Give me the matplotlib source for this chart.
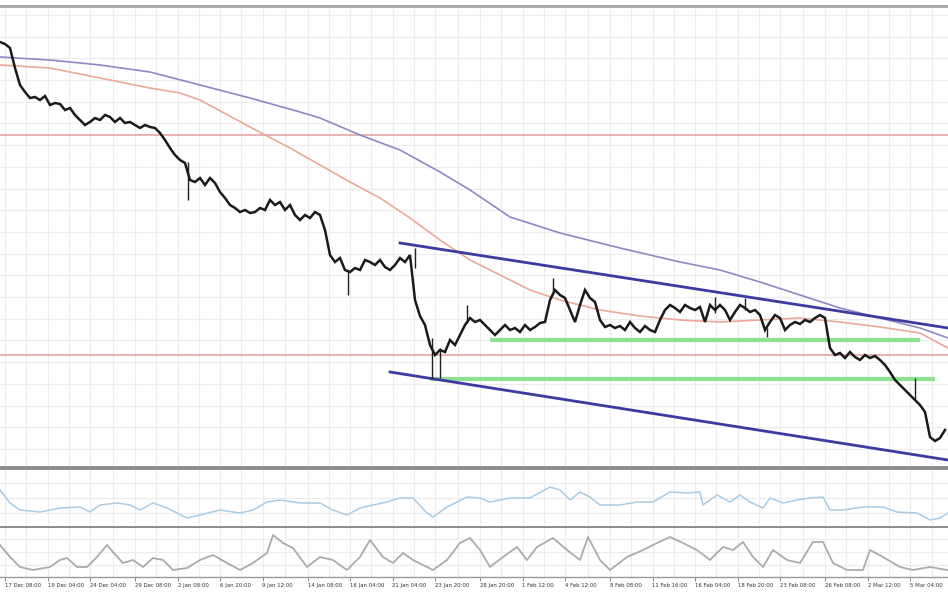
import numpy as np
import matplotlib
matplotlib.use("Agg")
import matplotlib.pyplot as plt

# price panel: closes every 2 bars (arbitrary units)
close = [426, 424, 420, 400, 383, 376, 370, 371, 368, 372, 363, 365, 364, 358, 360, 353, 348, 343, 346, 350,
         348, 353, 351, 346, 350, 345, 346, 343, 340, 343, 341, 340, 335, 328, 320, 313, 308, 305, 288, 286,
         290, 283, 290, 285, 276, 270, 263, 260, 256, 258, 255, 256, 260, 258, 268, 263, 266, 258, 263, 253,
         248, 253, 250, 256, 253, 238, 213, 206, 210, 198, 196, 200, 198, 208, 206, 203, 208, 201, 198, 203,
         210, 206, 213, 168, 152, 143, 123, 113, 118, 116, 128, 123, 133, 143, 150, 146, 148, 143, 138, 133,
         138, 143, 138, 140, 136, 143, 138, 141, 145, 146, 168, 178, 173, 170, 158, 146, 163, 178, 170, 166,
         148, 141, 143, 140, 142, 138, 146, 140, 136, 142, 138, 136, 148, 158, 163, 160, 156, 163, 160, 158,
         161, 146, 163, 158, 163, 158, 148, 156, 163, 160, 156, 158, 153, 138, 146, 153, 150, 138, 143, 146,
         144, 148, 146, 150, 153, 150, 120, 113, 115, 110, 116, 111, 108, 113, 110, 112, 108, 103, 96, 88,
         83, 78, 73, 68, 63, 56, 31, 27, 30, 38]
close_bars = np.arange(len(close)) * 2

wick_bars = [75.2, 139.2, 166, 172.8, 176, 186.8, 221.2, 286, 298, 306.8, 366]
wick_hi = [306, 198, 220, 130, 120, 163, 190, 171, 170, 140, 90]
wick_lo = [268, 173, 200, 90, 90, 145, 175, 155, 158, 131, 68]

ma_bars = [0, 20, 40, 60, 80, 100, 120, 128, 144, 160, 176, 188, 204, 224, 248, 272, 288, 304, 320, 336,
           352, 368, 379.2]
ma_slow = [411, 408, 403, 396, 383, 370, 356, 350, 333, 318, 296, 278, 251, 235, 220, 206, 198, 186, 173,
           160, 150, 140, 130]
ma_fast_bars = [0, 20, 40, 60, 72, 80, 100, 116, 128, 140, 152, 164, 176, 188, 200, 212, 224, 240, 256,
                272, 288, 304, 320, 336, 352, 368, 379.2]
ma_fast = [403, 400, 390, 380, 375, 368, 341, 320, 303, 286, 270, 250, 228, 208, 193, 178, 168, 158, 152,
           148, 146, 148, 150, 146, 141, 135, 120]

red_levels = [333, 113]
green_levels = [128, 89]
green_from = [196, 172]
green_to = [368, 374]
trend_up = ([160, 379.2], [225, 140])
trend_dn = ([156, 379.2], [96, 8])

# middle oscillator
osc1_bars = [0, 4, 8, 16, 24, 32, 36, 40, 46.8, 52, 56, 61.2, 66.8, 74.8, 80, 88, 96, 101.2, 106.8, 112,
             120, 128, 133.2, 138.8, 144, 149.2, 154.8, 160, 165.2, 170.8, 173.2, 178.8, 186.8, 192, 196,
             204, 212, 220, 224, 228, 232, 236, 240, 248, 254.8, 261.2, 268, 274.8, 280, 281.2, 286.8, 292,
             296, 300, 305.2, 308, 313.2, 318.8, 324, 329.2, 332, 337.2, 345.2, 353.2, 358.8, 366.8, 372,
             376, 379.2]
osc1 = [38, 25, 18, 16, 20, 21, 16, 23, 25, 23, 18, 25, 20, 10, 13, 18, 15, 18, 26, 28,
        25, 25, 18, 13, 20, 23, 26, 30, 30, 15, 11, 21, 31, 30, 26,
        30, 30, 41, 38, 28, 36, 31, 23, 23, 26, 26, 36, 35, 36, 23, 33, 26,
        33, 26, 20, 30, 25, 28, 30, 31, 18, 18, 21, 21, 16, 15, 8,
        10, 15]

# bottom oscillator
osc2_bars = [0, 4, 8, 13.2, 20, 24, 26.8, 30.8, 34.8, 38.8, 42.8, 45.2, 49.2, 53.2, 57.2, 61.2, 65.2, 69.2,
             74.8, 80, 85.2, 90.8, 96, 101.2, 106.8, 109.2, 113.2, 117.2, 122.8, 128, 133.2, 138.8, 144, 148,
             153.2, 157.2, 161.2, 165.2, 173.2, 178.8, 184, 188, 192, 196, 201.2, 206.8, 210.8, 214.8, 221.2,
             226.8, 232, 235.2, 240, 244, 250.8, 257.2, 262.8, 268, 273.2, 278.8, 284, 289.2, 293.2, 297.2,
             301.2, 305.2, 309.2, 314.8, 320, 325.2, 329.2, 333.2, 338.8, 345.2, 348, 353.2, 360, 365.2, 372,
             378.8]
osc2 = [32, 20, 10, 7, 10, 17, 19, 10, 10, 20, 32, 25, 14, 17, 10, 19, 17, 7,
        9, 17, 22, 14, 7, 14, 24, 42, 34, 29, 10, 20, 17, 7, 20, 37,
        20, 14, 24, 17, 7, 17, 34, 39, 27, 10, 20, 30, 17, 30, 39,
        27, 17, 40, 17, 7, 20, 27, 34, 40, 34, 27, 17, 30, 27, 35,
        20, 10, 27, 17, 14, 35, 35, 14, 7, 7, 27, 20, 10, 7, 10,
        7]

tick_bars = [2, 19, 36, 54, 71, 88, 105, 123, 140, 157, 174, 192, 209, 226, 244, 261, 278, 295, 312, 330,
             347, 364]
time_labels = ["17 Dec 08:00", "19 Dec 04:00", "24 Dec 04:00", "29 Dec 08:00", "2 Jan 08:00", "6 Jan 20:00",
               "9 Jan 12:00", "14 Jan 08:00", "16 Jan 04:00", "21 Jan 04:00", "23 Jan 20:00",
               "28 Jan 20:00", "1 Feb 12:00", "4 Feb 12:00", "8 Feb 08:00", "11 Feb 16:00", "16 Feb 04:00",
               "18 Feb 20:00", "23 Feb 08:00", "26 Feb 08:00", "2 Mar 12:00", "5 Mar 04:00"]

GRID = "#ececec"
SEP = "#8c8c8c"

fig = plt.figure(figsize=(9.48, 5.93), dpi=100)
fig.patch.set_facecolor("white")
ax = fig.add_axes([0, 1 - 468 / 593, 1, 462 / 593])
ax_mid = fig.add_axes([0, 1 - 528 / 593, 1, 60 / 593])
ax_bot = fig.add_axes([0, 1 - 577 / 593, 1, 49 / 593])

minor = [(a + b) / 2 for a, b in zip(tick_bars[:-1], tick_bars[1:])] + [tick_bars[-1] + 8.6]
for a in (ax, ax_mid, ax_bot):
    a.set_xlim(0, 379.2)
    a.set_xticks(tick_bars)
    a.set_xticks(minor, minor=True)
    a.grid(True, which="both", color=GRID, lw=0.8)
    a.set_axisbelow(True)
    a.tick_params(axis="y", left=False, labelleft=False)
    a.tick_params(axis="x", which="minor", bottom=False)
    for s in ("left", "right"):
        a.spines[s].set_visible(False)

# main panel
ax.set_ylim(0, 462)
ax.set_yticks(np.arange(453, 0, -21.7))
ax.tick_params(axis="x", bottom=False, labelbottom=False)
ax.spines["top"].set_color("#a8a8a8")
ax.spines["top"].set_linewidth(2)
ax.spines["bottom"].set_visible(False)

for lv in red_levels:
    ax.axhline(lv, color="#e6a3a3", lw=1.2)
for lv, x0, x1 in zip(green_levels, green_from, green_to):
    ax.plot([x0, x1], [lv, lv], color="#8fe08f", lw=3, solid_capstyle="butt")
ax.plot(ma_bars, ma_slow, color="#8a8ac4", lw=1.2)
ax.plot(ma_fast_bars, ma_fast, color="#eaa898", lw=1.2)
ax.plot(*trend_up, color="#3c3ca0", lw=2)
ax.plot(*trend_dn, color="#3c3ca0", lw=2)
ax.vlines(wick_bars, wick_lo, wick_hi, color="#202020", lw=1)
ax.plot(close_bars, close, color="#1a1a1a", lw=1.8, solid_joinstyle="miter")

# middle panel
ax_mid.set_ylim(0, 60)
ax_mid.set_yticks([15, 30, 45])
ax_mid.tick_params(axis="x", bottom=False, labelbottom=False)
for s in ("top", "bottom"):
    ax_mid.spines[s].set_color(SEP)
    ax_mid.spines[s].set_linewidth(2.8)
ax_mid.plot(osc1_bars, osc1, color="#a9cbe3", lw=1.1)

# bottom panel
ax_bot.set_ylim(0, 49)
ax_bot.set_yticks([12, 25, 38])
ax_bot.spines["top"].set_visible(False)
ax_bot.spines["bottom"].set_color("#9a9a9a")
ax_bot.spines["bottom"].set_linewidth(1)
ax_bot.plot(osc2_bars, osc2, color="#ababab", lw=1.3)
ax_bot.set_xticklabels(time_labels, fontsize=3.9, color="#333333", ha="left")
ax_bot.tick_params(axis="x", which="major", length=3, width=0.6, color="#777777", pad=1.5)

fig.savefig("out.png", dpi=100, facecolor="white")
